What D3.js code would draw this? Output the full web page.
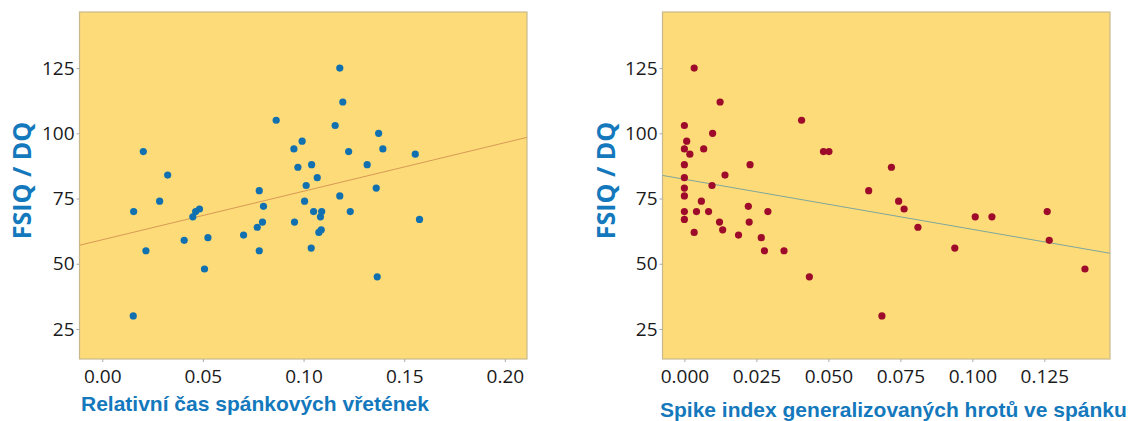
<!DOCTYPE html>
<html>
<head>
<meta charset="utf-8">
<script src="https://cdn.jsdelivr.net/npm/d3@7"></script>
<style>
  body { margin: 0; background: #fff; }
  svg { display: block; }
</style>
</head>
<body>
<div id="container"></div>
<script>
"use strict";

// left panel: relative time of sleep spindles vs FSIQ/DQ
const spindleX = [
  0.118, 0.1195, 0.0864, 0.1157, 0.1373, 0.0993, 0.0952, 0.1394, 0.0204, 0.1224,
  0.1555, 0.0972, 0.104, 0.1316, 0.0325, 0.1068, 0.1013, 0.1361, 0.078, 0.118,
  0.0285, 0.1005, 0.0801, 0.0156, 0.0483, 0.0464, 0.105, 0.109, 0.1232, 0.045,
  0.1084, 0.1576, 0.0796, 0.0955, 0.077, 0.1088, 0.1076, 0.0702, 0.0525, 0.0407,
  0.1038, 0.0217, 0.078, 0.0508, 0.1366, 0.0154,
];
const spindleY = [
  125, 112, 105, 103, 100, 97, 94, 94, 93, 93,
  92, 87, 88, 88, 84, 83, 80, 79, 78, 76,
  74, 74, 72, 70, 71, 70, 70, 70, 70, 68,
  68, 67, 66, 66, 64, 63, 62, 61, 60, 59,
  56, 55, 55, 48, 45, 30,
];

// right panel: spike index vs FSIQ/DQ
const spikeX = [
  0.0034, 0.0124, 0.0407, 0, 0.0098, 0.0008, 0, 0.0067, 0.0019, 0.0483,
  0.0502, 0, 0.0228, 0.0719, 0.0141, 0, 0.0096, 0, 0.064, 0,
  0.0059, 0.0744, 0.0222, 0.0763, 0, 0.0042, 0.0084, 0.029, 0.126, 0,
  0.0122, 0.0225, 0.101, 0.1068, 0.0133, 0.0811, 0.0034, 0.0188, 0.0267, 0.1267,
  0.0939, 0.0278, 0.0346, 0.1391, 0.0434, 0.0686,
];
const spikeY = [
  125, 112, 105, 103, 100, 97, 94, 94, 92, 93,
  93, 88, 88, 87, 84, 83, 80, 79, 78, 76,
  74, 74, 72, 71, 70, 70, 70, 70, 70, 67,
  66, 66, 68, 68, 63, 64, 62, 61, 60, 59,
  56, 55, 55, 48, 45, 30,
];

// fitted lines: [intercept, slope]
const spindleFit = [59.2, 186];
const spikeFit = [82.4, -192];

const yTicks = [25, 50, 75, 100, 125];
const spindleTicks = [0, 0.05, 0.1, 0.15, 0.2];
const spikeTicks = [0, 0.025, 0.05, 0.075, 0.1, 0.125];

const yTitle = "FSIQ / DQ";
const spindleTitle = "Relativní čas spánkových vřetének";
const spikeTitle = "Spike index generalizovaných hrotů ve spánku";

const width = 1137;
const height = 421;
const plotTop = 12;
const plotBottom = 359;
const bgColor = "#fddb78";
const frameColor = "#c8b98c";

const svg = d3
  .select("#container")
  .append("svg")
  .attr("width", width)
  .attr("height", height);

const drawPanel = (opts) => {
  const xScale = d3.scaleLinear().domain(opts.xDomain).range([opts.left, opts.right]);
  const yScale = d3.scaleLinear().domain([13.5, 146.5]).range([plotBottom, plotTop]);

  const g = svg.append("g");

  g.append("rect")
    .attr("x", opts.left)
    .attr("y", plotTop)
    .attr("width", opts.right - opts.left)
    .attr("height", plotBottom - plotTop)
    .attr("fill", bgColor)
    .attr("stroke", frameColor)
    .attr("stroke-width", 1.2);

  const xAxis = d3
    .axisBottom(xScale)
    .tickValues(opts.xTicks)
    .tickFormat(d3.format(opts.fmt))
    .tickSize(3)
    .tickPadding(8);
  const yAxis = d3
    .axisLeft(yScale)
    .tickValues(yTicks)
    .tickSize(3)
    .tickPadding(2);

  [
    g.append("g").attr("transform", `translate(0, ${plotBottom})`).call(xAxis),
    g.append("g").attr("transform", `translate(${opts.left}, 0)`).call(yAxis),
  ].forEach((ax) => {
    ax.select(".domain").remove();
    ax.selectAll(".tick line").attr("stroke", "#aaa");
    ax.selectAll(".tick text")
      .attr("fill", "#1a1a1a")
      .style("font-family", "'Open Sans', sans-serif")
      .style("font-size", "19px");
  });

  // regression line across the plot frame
  const [a, b] = opts.fit;
  const x0 = opts.xDomain[0];
  const x1 = opts.xDomain[1];
  g.append("line")
    .attr("x1", xScale(x0))
    .attr("y1", yScale(a + b * x0))
    .attr("x2", xScale(x1))
    .attr("y2", yScale(a + b * x1))
    .attr("stroke", opts.lineColor)
    .attr("stroke-width", 1);

  g.selectAll("circle")
    .data(opts.xs.map((x, i) => [x, opts.ys[i]]))
    .enter()
    .append("circle")
    .attr("cx", (d) => xScale(d[0]))
    .attr("cy", (d) => yScale(d[1]))
    .attr("r", 3.6)
    .attr("fill", opts.dotColor);

  svg.append("text")
    .attr("transform", `translate(${opts.yTitleX}, 180.5) rotate(-90)`)
    .attr("text-anchor", "middle")
    .attr("fill", "#1478bc")
    .style("font-family", "'Open Sans', sans-serif")
    .style("font-weight", "bold")
    .style("font-size", "25px")
    .text(yTitle);

  svg.append("text")
    .attr("x", opts.xTitleX)
    .attr("y", opts.xTitleY)
    .attr("fill", "#1478bc")
    .style("font-family", "'Liberation Sans', Arial, sans-serif")
    .style("font-weight", "bold")
    .style("font-size", "21px")
    .text(opts.xTitle);
};

drawPanel({
  left: 79.5,
  right: 527,
  xDomain: [-0.0113, 0.211],
  xTicks: spindleTicks,
  fmt: ".2f",
  xs: spindleX,
  ys: spindleY,
  fit: spindleFit,
  dotColor: "#1070b0",
  lineColor: "#d79a55",
  yTitleX: 31,
  xTitle: spindleTitle,
  xTitleX: 81,
  xTitleY: 411,
});

drawPanel({
  left: 662.5,
  right: 1110,
  xDomain: [-0.0076, 0.1478],
  xTicks: spikeTicks,
  fmt: ".3f",
  xs: spikeX,
  ys: spikeY,
  fit: spikeFit,
  dotColor: "#9e0a2a",
  lineColor: "#7fa69c",
  yTitleX: 615,
  xTitle: spikeTitle,
  xTitleX: 660,
  xTitleY: 417,
});
</script>
</body>
</html>
